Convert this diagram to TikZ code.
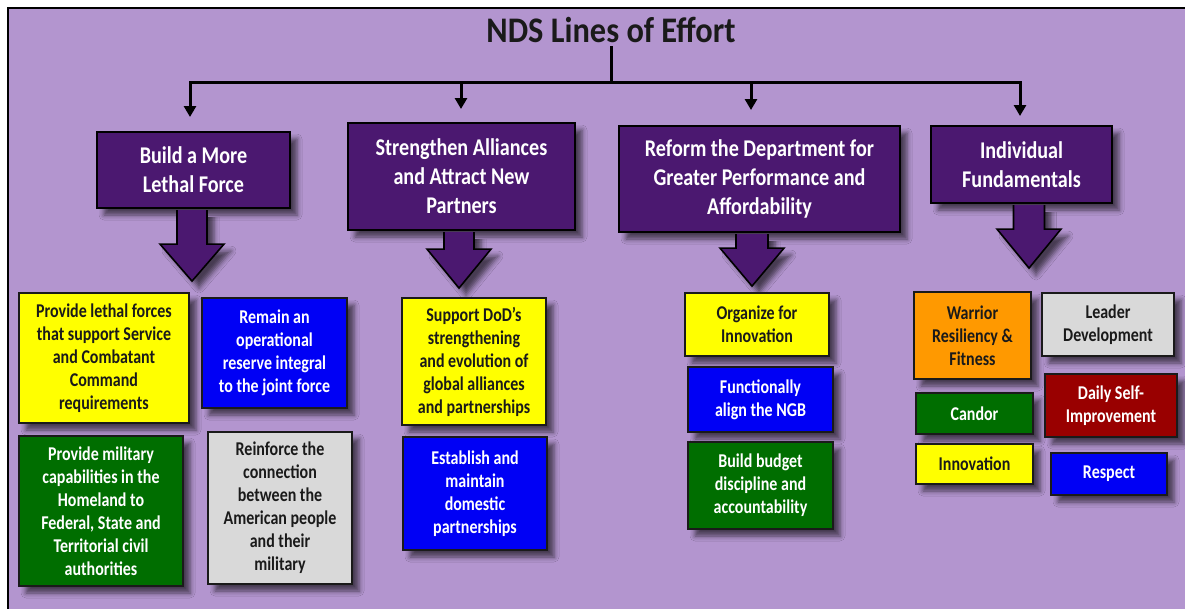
\documentclass[tikz,border=0pt]{standalone}
\usepackage{fontspec}
\newfontfamily\cfont{Carlito}[FakeStretch=0.82]
\newfontfamily\hfont{Carlito}[FakeStretch=0.84]
\newfontfamily\tfont{Carlito}[FakeStretch=0.9]
\usetikzlibrary{calc,arrows.meta,shadows.blur}
\definecolor{bg}{HTML}{B395CF}
\definecolor{hdr}{HTML}{4B1870}
\definecolor{cyel}{HTML}{FFFF00}
\definecolor{cblue}{HTML}{0000F5}
\definecolor{cgreen}{HTML}{006E00}
\definecolor{cgray}{HTML}{D9D9D9}
\definecolor{corange}{HTML}{FF9900}
\definecolor{cred}{HTML}{990000}
\definecolor{ink}{HTML}{1A1A1A}
\newcommand\blockarr[6]{%
  \draw[barrow] ($(#1.south)+(#2-#3,1)$) -- ($(#1.south)+(#2-#3,#4)$) --
   ($(#1.south)+(#2-#5,#4)$) -- ($(#1.south)+(#2,#6)$) --
   ($(#1.south)+(#2+#5,#4)$) -- ($(#1.south)+(#2+#3,#4)$) --
   ($(#1.south)+(#2+#3,1)$);}
\begin{document}
\begin{tikzpicture}[x=1pt,y=-1pt,
  shad/.style={blur shadow={shadow xshift=7pt,shadow yshift=-7pt,shadow blur radius=5pt,shadow opacity=60}},
  cbox/.style={draw=ink,line width=1.5pt,inner sep=0pt,align=center,shad,
    font=\cfont\bfseries\fontsize{19.5}{23}\selectfont},
  hbox/.style={draw=black,fill=hdr,text=white,line width=2.2pt,inner sep=0pt,align=center,shad,
    font=\hfont\bfseries\fontsize{24}{29}\selectfont},
  barrow/.style={draw=black,fill=hdr,line width=1.6pt,line join=miter,shad},
  bus/.style={draw=black,line width=3pt},
  tip/.style={-{Triangle[width=12pt,length=11pt]}},
  yel/.style={cbox,fill=cyel,text=ink},
  blu/.style={cbox,fill=cblue,text=white},
  grn/.style={cbox,fill=cgreen,text=white},
  gry/.style={cbox,fill=cgray,text=ink},
  org/.style={cbox,fill=corange,text=ink},
  red/.style={cbox,fill=cred,text=white}]
\useasboundingbox (0,0) rectangle (1185,608);
\fill[white] (0,0) rectangle (1185,608);
\draw[line width=2.5pt,fill=bg] (8,8) rectangle (1200,625);
% title and bus
\node[anchor=base,inner xsep=0pt,inner ysep=4pt,font=\tfont\bfseries\fontsize{36}{40}\selectfont,text=ink] (title) at (611,42) {NDS Lines of Effort};
\coordinate (j) at (611,82);
\coordinate (a1) at (190,117);
\coordinate (a2) at (461,109);
\coordinate (a3) at (751,110);
\coordinate (a4) at (1020,116);
\draw[bus] (title.south) -- (j);
\draw[bus,tip] (j) -| (a1);
\draw[bus,tip] (j) -| (a2);
\draw[bus,tip] (j) -| (a3);
\draw[bus,tip] (j) -| (a4);
% headers
\node[hbox,minimum width=193pt,minimum height=76pt] (h1) at (193.5,170) {Build a More\\Lethal Force};
\node[hbox,minimum width=227pt,minimum height=107pt] (h2) at (461.5,176.5) {Strengthen Alliances\\and Attract New\\Partners};
\node[hbox,minimum width=281pt,minimum height=106pt] (h3) at (759.5,179) {Reform the Department for\\Greater Performance and\\Affordability};
\node[hbox,minimum width=181pt,minimum height=77pt] (h4) at (1021.5,164.5) {Individual\\Fundamentals};
% block arrows
\blockarr{h1}{-1.5}{15}{35}{32}{72}
\blockarr{h2}{-2.5}{15}{18}{32}{57}
\blockarr{h3}{-7.5}{16}{15}{32}{53}
\blockarr{h4}{7.5}{15.5}{25}{32}{64}
% column 1
\node[yel,minimum width=170pt,minimum height=130pt] (y1) at (104,358) {Provide lethal forces\\that support Service\\and Combatant\\Command\\requirements};
\node[blu,minimum width=145pt,minimum height=110pt] (b1) at (274.5,353) {Remain an\\operational\\reserve integral\\to the joint force};
\node[grn,minimum width=164pt,minimum height=150pt] (g1) at (101,511) {Provide military\\capabilities in the\\Homeland to\\Federal, State and\\Territorial civil\\authorities};
\node[gry,minimum width=144pt,minimum height=152pt] (r1) at (280,508) {Reinforce the\\connection\\between the\\American people\\and their\\military};
% column 2
\node[yel,minimum width=144pt,minimum height=127pt] (y2) at (474,361.5) {Support DoD’s\\strengthening\\and evolution of\\global alliances\\and partnerships};
\node[blu,minimum width=144pt,minimum height=113pt] (b2) at (475,493.5) {Establish and\\maintain\\domestic\\partnerships};
% column 3
\node[yel,minimum width=144pt,minimum height=63pt] (y3) at (757,324.5) {Organize for\\Innovation};
\node[blu,minimum width=145pt,minimum height=65pt] (b3) at (760.5,399.5) {Functionally\\align the NGB};
\node[grn,minimum width=145pt,minimum height=87pt] (g2) at (760.5,485.5) {Build budget\\discipline and\\accountability};
% column 4
\node[org,minimum width=117pt,minimum height=87pt] (o1) at (972.5,335.5) {Warrior\\Resiliency \&\\Fitness};
\node[gry,minimum width=132pt,minimum height=63pt] (r2) at (1108,324.5) {Leader\\Development};
\node[grn,minimum width=117pt,minimum height=41pt] (g3) at (974.5,413.5) {Candor};
\node[red,minimum width=132pt,minimum height=63pt] (d1) at (1111,405.5) {Daily Self-\\Improvement};
\node[yel,minimum width=117pt,minimum height=40pt] (y4) at (974.5,464) {Innovation};
\node[blu,minimum width=116pt,minimum height=42pt] (b4) at (1109,474) {Respect};
\end{tikzpicture}
\end{document}
